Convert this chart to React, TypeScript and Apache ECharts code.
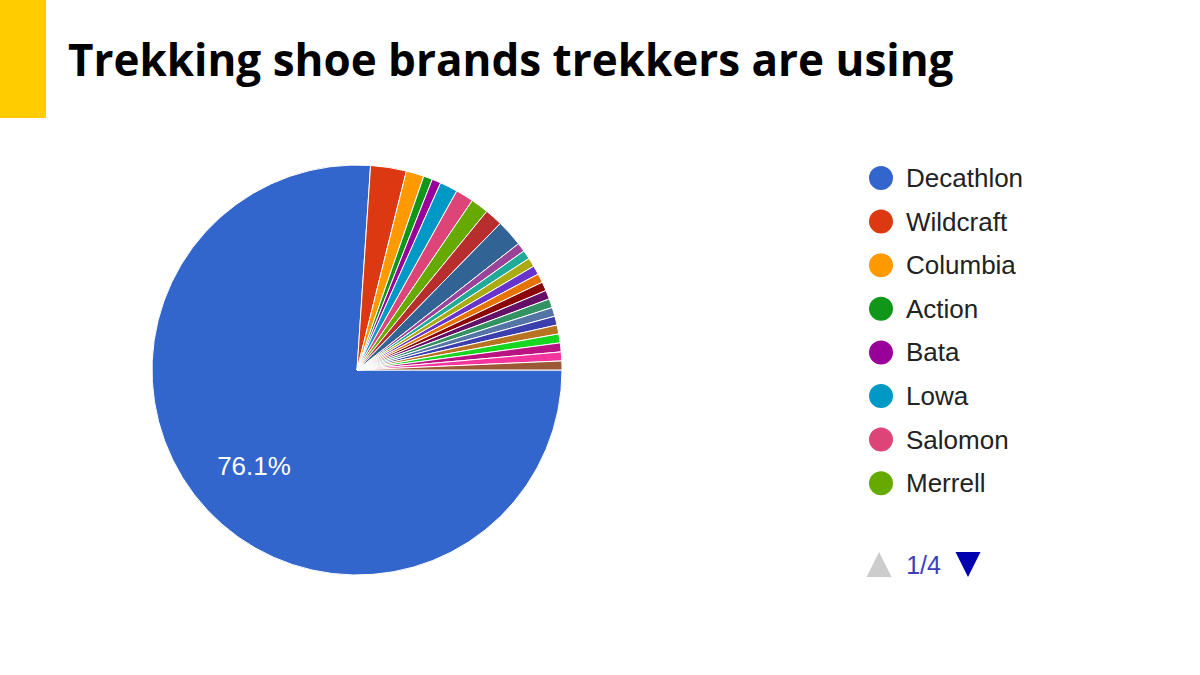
import React, { useEffect, useRef } from 'react';
import * as echarts from 'echarts';

const titleText = 'Trekking shoe brands trekkers are using';

const brands = [
  'Decathlon', 'Wildcraft', 'Columbia', 'Action', 'Bata', 'Lowa', 'Salomon', 'Merrell',
  'Woodland', 'Quechua', 'Nike', 'Adidas', 'Puma', 'Reebok', 'Skechers', 'Asics',
  'Keen', 'Scarpa', 'Hi-Tec', 'Red Chief', 'Vasque', 'Forclaz', 'Campus', 'Sparx', 'Others',
];

const counts = [
  108, 4, 2, 1, 1, 2, 2, 2,
  2, 3, 1, 1, 1, 1, 1, 1,
  1, 1, 1, 1, 1, 1, 1, 1, 1,
];

const palette = [
  '#3366cc', '#dc3912', '#ff9900', '#109618', '#990099', '#0099c6', '#dd4477', '#66aa00',
  '#b82e2e', '#316395', '#994499', '#22aa99', '#aaaa11', '#6633cc', '#e67300', '#8b0707',
  '#651067', '#329262', '#5574a6', '#3b3eac', '#b77322', '#16d620', '#b91383', '#f4359e', '#9c5935',
];

// circle marker sitting at the right end of a wider (invisible) icon box
const legendIcon = 'path://M0,13 M43,13 A13,13 0 1,1 69,13 A13,13 0 1,1 43,13 Z';

export default function App() {
  const ref = useRef<HTMLDivElement>(null);

  useEffect(() => {
    document.body.style.margin = '0';
    const chart = echarts.init(ref.current!, null, { renderer: 'svg' });
    const cx = 357;
    const cy = 370;
    const R = 205;
    const legendFont = 'Liberation Sans, Arial, sans-serif';

    chart.setOption({
      animation: false,
      backgroundColor: '#ffffff',
      color: palette,
      title: {
        text: titleText,
        left: 68,
        top: 37,
        padding: 0,
        textStyle: {
          fontFamily: 'Open Sans',
          fontWeight: 'bold',
          fontSize: 44,
          color: '#000000',
        },
      },
      graphic: [
        {
          type: 'rect',
          left: 0,
          top: 0,
          shape: { width: 46, height: 118 },
          style: { fill: '#ffcc00' },
        },
      ],
      legend: {
        type: 'scroll',
        orient: 'vertical',
        left: 824,
        top: 164,
        height: 413,
        padding: 0,
        icon: legendIcon,
        itemWidth: 69,
        itemHeight: 26,
        itemGap: 15.6,
        data: brands,
        textStyle: {
          fontFamily: legendFont,
          fontSize: 26,
          color: '#222222',
          padding: [0, 0, 0, 7],
        },
        pageButtonGap: 47,
        pageButtonItemGap: 3.5,
        pageIconSize: [26, 25],
        pageIconColor: '#0000b0',
        pageIconInactiveColor: '#cccccc',
        pageTextStyle: {
          fontFamily: legendFont,
          fontSize: 25,
          color: '#3a3fb8',
        },
      },
      series: [
        {
          type: 'pie',
          center: [cx, cy],
          radius: R,
          startAngle: 0,
          clockwise: true,
          avoidLabelOverlap: false,
          percentPrecision: 1,
          itemStyle: { borderColor: '#ffffff', borderWidth: 1 },
          emphasis: { disabled: true },
          label: {
            show: true,
            position: 'inside',
            color: '#ffffff',
            fontFamily: legendFont,
            fontSize: 26,
            formatter: (p: any) => (p.percent > 5 ? p.percent.toFixed(1) + '%' : ''),
          },
          labelLine: { show: false },
          labelLayout: (params: any) => {
            const lr = params.labelRect;
            const mx = lr.x + lr.width / 2;
            const my = lr.y + lr.height / 2;
            const vx = mx - cx;
            const vy = my - cy;
            const d = Math.hypot(vx, vy) || 1;
            const t = 0.688 * R;
            return { dx: (vx / d) * t - vx, dy: (vy / d) * t - vy };
          },
          data: brands.map((name, i) => ({ name, value: counts[i] })),
        },
      ],
    });

    return () => chart.dispose();
  }, []);

  return <div ref={ref} style={{ width: 1200, height: 675 }} />;
}
